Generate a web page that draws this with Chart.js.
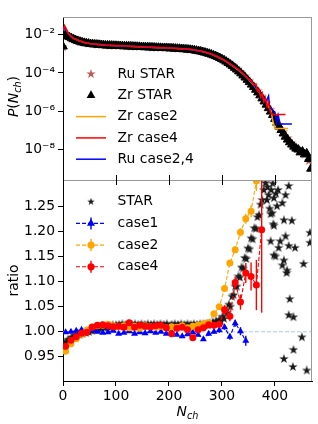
<!DOCTYPE html>
<html>
<head>
<meta charset="utf-8">
<script src="https://cdn.jsdelivr.net/npm/chart.js@4.4.1/dist/chart.umd.min.js"></script>
<style>
  html, body { margin: 0; padding: 0; background: #fff; }
  #chart { display: block; }
</style>
</head>
<body>
<canvas id="chart" width="318" height="424"></canvas>
<script>
// ---------- data ----------
const xTicks = [0, 100, 200, 300, 400];
const pTicks = [1e-2, 1e-4, 1e-6, 1e-8];
const pTickLabels = ['10⁻²', '10⁻⁴', '10⁻⁶', '10⁻⁸'];
const ratioTicks = [0.95, 1.00, 1.05, 1.10, 1.15, 1.20, 1.25];
const ratioTickLabels = ['0.95', '1.00', '1.05', '1.10', '1.15', '1.20', '1.25'];

// top panel: P(Nch)
const nZrStar = [0,4,8,12,16,20,24,28,32,36,40,44,48,52,56,60,64,68,72,76,80,84,88,92,96,100,
  104,108,112,116,120,124,128,132,136,140,144,148,152,156,160,164,168,172,176,180,184,188,192,196,200,
  204,208,212,216,220,224,228,232,236,240,244,248,252,256,260,264,268,272,276,280,284,288,292,296,300,
  304,308,312,316,320,324,328,332,336,340,344,348,352,356,360,364,368,372,376,380,384,388,392,396,400,
  404,408,412,416,420,424,428,432,436,440,444,448,452,456,460,464,468];
const pZrStar = [2.40e-3,9.55e-3,8.51e-3,7.41e-3,6.46e-3,5.75e-3,5.13e-3,4.68e-3,4.27e-3,3.98e-3,3.72e-3,3.55e-3,3.39e-3,3.24e-3,3.16e-3,3.09e-3,3.02e-3,2.95e-3,2.88e-3,2.82e-3,2.75e-3,2.72e-3,2.69e-3,2.66e-3,2.63e-3,2.60e-3,
  2.57e-3,2.54e-3,2.51e-3,2.48e-3,2.45e-3,2.43e-3,2.40e-3,2.37e-3,2.34e-3,2.32e-3,2.29e-3,2.26e-3,2.24e-3,2.21e-3,2.19e-3,2.16e-3,2.14e-3,2.11e-3,2.09e-3,2.07e-3,2.04e-3,2.02e-3,2.00e-3,1.97e-3,1.95e-3,
  1.93e-3,1.91e-3,1.86e-3,1.84e-3,1.82e-3,1.78e-3,1.74e-3,1.70e-3,1.66e-3,1.62e-3,1.58e-3,1.51e-3,1.45e-3,1.38e-3,1.32e-3,1.23e-3,1.15e-3,1.07e-3,1.00e-3,9.12e-4,8.32e-4,7.59e-4,6.76e-4,6.03e-4,5.25e-4,
  4.57e-4,3.89e-4,3.31e-4,2.75e-4,2.29e-4,1.86e-4,1.51e-4,1.20e-4,9.55e-5,7.41e-5,5.75e-5,4.37e-5,3.31e-5,2.45e-5,1.82e-5,1.32e-5,9.55e-6,6.76e-6,4.68e-6,3.24e-6,2.19e-6,1.45e-6,9.55e-7,6.31e-7,3.98e-7,
  2.51e-7,1.58e-7,1.05e-7,6.92e-8,4.68e-8,3.31e-8,2.40e-8,1.82e-8,1.41e-8,1.12e-8,1.0e-8,7.1e-9,7.9e-9,5.6e-9,6.3e-9,3.2e-9,1.0e-9];

const nRuStar = [0,8,16,24,32,40,48,56,64,72,80,88,96,104,112,120,128,136,144,152,160,168,176,184,192,200,
  208,216,224,232,240,248,256,264,272,280,288,296,304,312,320,328,336,344,352,360,368,376,384,392,400,
  408,416,424,432,440,448,456,464];
const pRuStar = [2.2e-3,8.4e-3,6.4e-3,5.05e-3,4.22e-3,3.71e-3,3.39e-3,3.17e-3,3.04e-3,2.90e-3,2.77e-3,2.71e-3,2.65e-3,2.59e-3,2.54e-3,2.48e-3,2.43e-3,2.37e-3,2.32e-3,2.27e-3,2.21e-3,2.16e-3,2.11e-3,2.06e-3,2.02e-3,1.97e-3,
  1.93e-3,1.86e-3,1.80e-3,1.72e-3,1.64e-3,1.53e-3,1.40e-3,1.25e-3,1.09e-3,9.3e-4,7.8e-4,6.2e-4,4.7e-4,3.5e-4,2.5e-4,1.65e-4,1.07e-4,6.6e-5,3.9e-5,2.2e-5,1.17e-5,5.9e-6,2.8e-6,1.22e-6,4.8e-7,
  1.9e-7,8.3e-8,4.0e-8,2.1e-8,1.25e-8,8.5e-9,5.5e-9,2.5e-9];

const nZr2 = [1,3,6,10,15,20,30,40,50,60,80,100,120,140,160,180,200,220,240,260,270,280,290,300,310,320,330,340,350,360,370,375,380,384,388,392,396,400,425];
const pZr2 = [1.58e-2,2.51e-2,1.78e-2,1.12e-2,7.9e-3,6.3e-3,4.8e-3,3.89e-3,3.39e-3,3.16e-3,2.82e-3,2.63e-3,2.45e-3,2.34e-3,2.21e-3,2.09e-3,1.97e-3,1.84e-3,1.66e-3,1.35e-3,
  1.17e-3,9.5e-4,7.2e-4,5.25e-4,3.63e-4,2.34e-4,1.48e-4,8.7e-5,4.7e-5,2.24e-5,1.0e-5,6.3e-6,3.55e-6,4.0e-6,1.58e-6,1.41e-6,3.16e-7,1.26e-7,1.26e-7];

const nZr4 = [1,3,6,10,15,20,30,40,50,60,80,100,120,140,160,180,200,220,240,260,270,280,290,300,310,320,330,340,350,355,360,364,367,370,373,376,379,382,385,388,391,395,420];
const pZr4 = [1.78e-2,2.95e-2,2.0e-2,1.20e-2,8.3e-3,6.46e-3,4.9e-3,3.98e-3,3.47e-3,3.24e-3,2.88e-3,2.69e-3,2.51e-3,2.40e-3,2.26e-3,2.14e-3,2.02e-3,1.88e-3,1.70e-3,1.38e-3,
  1.20e-3,9.8e-4,7.4e-4,5.5e-4,3.8e-4,2.51e-4,1.58e-4,9.3e-5,5.0e-5,3.98e-5,2.4e-5,2.63e-5,1.12e-5,1.41e-5,5.6e-6,8.9e-6,3.16e-6,5.0e-6,1.78e-6,2.82e-6,1.0e-6,6.8e-7,6.8e-7];

const nRu24 = [1,3,6,10,15,20,30,40,50,60,80,100,120,140,160,180,200,220,240,260,270,280,290,300,310,320,330,340,350,360,366,372,376,380,384,388,390,396,400,403,406,410,432];
const pRu24 = [1.6e-2,2.55e-2,1.8e-2,1.13e-2,8.0e-3,6.35e-3,4.85e-3,3.92e-3,3.41e-3,3.18e-3,2.84e-3,2.65e-3,2.47e-3,2.36e-3,2.23e-3,2.11e-3,1.99e-3,1.86e-3,1.68e-3,1.37e-3,
  1.19e-3,9.7e-4,7.4e-4,5.4e-4,3.8e-4,2.5e-4,1.6e-4,9.1e-5,5.0e-5,2.5e-5,1.41e-5,8.9e-6,5.0e-6,3.16e-6,3.55e-6,6.3e-6,1.58e-6,1.12e-6,8.9e-7,2.51e-7,6.3e-7,2.14e-7,2.14e-7];

// bottom panel: ratio
const nRatio = [5,15,25,35,45,55,65,75,85,95,105,115,125,135,145,155,165,175,185,195,205,215,225,235,245,255,265,275,285,295,305,315,325,335,345,355,365,375];
const case1Ratio = [0.999,1.000,1.002,1.004,1.001,1.003,1.000,0.998,0.999,1.002,0.996,0.998,1.001,0.996,0.999,0.997,1.001,0.998,1.000,0.996,0.999,0.994,0.991,0.995,0.999,0.994,0.985,0.996,1.000,1.003,1.009,0.990,1.017,1.001,0.982];
const case1Err = [0.002,0.002,0.002,0.002,0.002,0.002,0.002,0.002,0.002,0.002,0.002,0.002,0.002,0.002,0.002,0.002,0.002,0.002,0.002,0.002,0.002,0.002,0.002,0.002,0.002,0.003,0.003,0.004,0.004,0.005,0.005,0.006,0.007,0.008,0.010];
const case2Ratio = [0.961,0.976,0.986,0.995,1.003,1.010,1.012,1.013,1.015,1.012,1.010,1.012,1.008,1.011,1.007,1.012,1.010,1.009,1.011,1.008,1.010,1.009,1.012,1.008,1.011,1.013,1.016,1.018,1.036,1.050,1.086,1.137,1.163,1.198,1.225,1.240,1.300];
const case2Err = [0.002,0.002,0.002,0.002,0.002,0.002,0.002,0.002,0.002,0.002,0.002,0.002,0.002,0.002,0.002,0.002,0.002,0.002,0.002,0.002,0.002,0.002,0.002,0.002,0.002,0.003,0.003,0.003,0.004,0.004,0.005,0.006,0.007,0.008,0.010,0.012,0.020];
const case4Ratio = [0.971,0.983,0.990,0.997,0.999,1.009,1.013,1.014,1.012,1.010,1.011,1.009,1.018,1.009,1.013,1.011,1.010,1.012,1.013,1.008,0.996,1.007,1.009,1.004,0.988,1.004,1.008,1.014,1.013,1.015,1.044,1.031,1.098,1.059,1.117,1.110,1.093,1.203];
const case4Err = [0.003,0.003,0.003,0.003,0.003,0.003,0.003,0.003,0.003,0.003,0.003,0.003,0.003,0.003,0.003,0.003,0.003,0.003,0.003,0.003,0.003,0.003,0.003,0.003,0.003,0.004,0.004,0.005,0.006,0.007,0.009,0.010,0.012,0.015,0.020,0.028,0.050,0.165];

const nStarRatio = [1,4,7,10,13,16,19,22,25,28,31,34,37,40,43,46,49,52,55,58,61,64,67,70,73,76,79,82,85,88,91,94,97,100,
  103,106,109,112,115,118,121,124,127,130,133,136,139,142,145,148,151,154,157,160,163,166,169,172,175,178,181,184,187,190,193,196,199,
  202,205,208,211,214,217,220,223,226,229,232,235,238,241,244,247,250,253,256,259,262,265,268,271,274,277,280,283,286,289,292,295,298,
  301,304,307,310,313,316,319,322,325,328,331,334,337,340,343,346,349,352,355,358,361,364,367,370,373,376,379,382,
  385,386,388,390,392,393,395,396,397,398,398,398,401,392,402,404,406,407,410,414,414,417,417,420,420,422,423,426,426,428,426,432,438,435,454,466,466,451,435,417,434,460];
const starRatio = [0.974,0.978,0.979,0.984,0.984,0.988,0.988,0.992,0.991,0.995,0.994,0.997,0.996,0.999,0.998,1.001,1.000,1.003,1.002,1.005,1.004,1.007,1.006,1.009,1.007,1.010,1.008,1.011,1.009,1.012,1.010,1.013,1.010,1.013,
  1.011,1.014,1.012,1.015,1.011,1.014,1.012,1.015,1.011,1.014,1.012,1.015,1.011,1.014,1.012,1.015,1.011,1.014,1.012,1.015,1.011,1.014,1.012,1.015,1.011,1.014,1.012,1.015,1.011,1.014,1.012,1.015,1.011,
  1.011,1.014,1.012,1.015,1.011,1.014,1.012,1.015,1.011,1.014,1.012,1.015,1.011,1.014,1.012,1.015,1.011,1.014,1.012,1.015,1.012,1.015,1.013,1.016,1.013,1.017,1.014,1.019,1.016,1.021,1.018,1.024,1.021,
  1.030,1.026,1.041,1.037,1.054,1.050,1.070,1.073,1.090,1.090,1.110,1.108,1.128,1.126,1.147,1.145,1.166,1.164,1.186,1.184,1.206,1.205,1.228,1.232,1.253,1.262,1.282,1.296,
  1.262,1.288,1.272,1.245,1.234,1.282,1.236,1.295,1.214,1.266,1.211,1.152,1.150,1.180,1.275,1.250,1.282,1.167,1.180,1.256,1.132,1.222,1.142,1.272,1.190,1.117,1.122,1.290,1.171,1.065,1.033,1.221,1.167,1.029,1.135,1.197,1.177,0.989,0.964,0.946,0.930,0.923];

const nRef = [0, 470];
const refRatio = [1, 1];

// ---------- styling ----------
const FONT = '"DejaVu Sans", "Liberation Sans", sans-serif';
const FS = 13.9;
const ORANGE = '#ffa500';
const RED = '#ff0000';
const BLUE = '#0000ff';

Chart.defaults.font.family = FONT;
Chart.defaults.font.size = FS;
Chart.defaults.color = '#000';

const pts = (xs, ys) => ys.map((y, i) => ({x: xs[i], y: y}));

// filled five-point star like matplotlib '*'
function starMarker(size, color) {
  const c = document.createElement('canvas');
  c.width = c.height = size;
  const g = c.getContext('2d');
  const R = size / 2, r = R * 0.382;
  g.beginPath();
  for (let i = 0; i < 10; i++) {
    const a = -Math.PI / 2 + i * Math.PI / 5;
    const rad = i % 2 ? r : R;
    g.lineTo(R + rad * Math.cos(a), R + rad * Math.sin(a));
  }
  g.closePath();
  g.fillStyle = color;
  g.fill();
  return c;
}
const starBlack = starMarker(10, '#1a1a1a');
const starBlackLegend = starMarker(8, '#1a1a1a');
const starBrown = starMarker(10, '#b5605a');

const lineSet = (label, xs, ys, color, order) => ({
  label, data: pts(xs, ys), yAxisID: 'y', showLine: true, pointRadius: 0,
  borderColor: color, borderWidth: 1.5, order
});
const ratioSet = (label, xs, ys, errs, color, style, radius, order) => ({
  label, data: pts(xs, ys), yAxisID: 'y2', showLine: true,
  borderColor: color, borderWidth: 1.1, borderDash: [4, 2],
  pointStyle: style, pointRadius: radius, pointBackgroundColor: color,
  pointBorderColor: color, pointBorderWidth: 0, errorBars: errs, order
});

// error bars, drawn just before their own dataset
const errorBarPlugin = {
  id: 'errorBars',
  beforeDatasetDraw(chart, args) {
    const ds = chart.data.datasets[args.index];
    if (!ds.errorBars) return;
    const ys = chart.scales[ds.yAxisID], xs = chart.scales.x;
    const ctx = chart.ctx;
    ctx.save();
    ctx.beginPath();
    ctx.rect(xs.left, ys.top, xs.right - xs.left, ys.bottom - ys.top);
    ctx.clip();
    ctx.strokeStyle = ds.borderColor;
    ctx.lineWidth = 1.4;
    args.meta.data.forEach((pt, i) => {
      const v = ds.data[i].y, e = ds.errorBars[i];
      ctx.beginPath();
      ctx.moveTo(pt.x, ys.getPixelForValue(v - e));
      ctx.lineTo(pt.x, ys.getPixelForValue(v + e));
      ctx.stroke();
    });
    ctx.restore();
  }
};

function mathLabel(ctx, cx, cy, angle, parts) {
  const fontOf = p => (p.italic ? 'italic ' : '') + (p.sub ? 9.7 : FS) + 'px ' + FONT;
  ctx.save();
  ctx.translate(cx, cy);
  ctx.rotate(angle);
  ctx.textAlign = 'left';
  ctx.textBaseline = 'alphabetic';
  ctx.fillStyle = '#000';
  let w = 0;
  parts.forEach(p => { ctx.font = fontOf(p); p.w = ctx.measureText(p.t).width; w += p.w; });
  let x = -w / 2;
  parts.forEach(p => { ctx.font = fontOf(p); ctx.fillText(p.t, x, p.sub ? 3 : 0); x += p.w; });
  ctx.restore();
}

function legendMarker(ctx, kind, x, y, color) {
  ctx.save();
  ctx.fillStyle = color;
  ctx.strokeStyle = color;
  if (kind === 'line') {
    ctx.lineWidth = 1.5;
    ctx.beginPath(); ctx.moveTo(x - 15, y); ctx.lineTo(x + 15, y); ctx.stroke();
  } else if (kind === 'tri') {
    ctx.beginPath();
    ctx.moveTo(x, y - 5); ctx.lineTo(x + 4.4, y + 2.6); ctx.lineTo(x - 4.4, y + 2.6);
    ctx.closePath(); ctx.fill();
  } else if (kind === 'dashTri' || kind === 'dashDot') {
    ctx.lineWidth = 1.1;
    ctx.setLineDash([4, 2]);
    ctx.beginPath(); ctx.moveTo(x - 15, y); ctx.lineTo(x + 15, y); ctx.stroke();
    ctx.setLineDash([]);
    ctx.lineWidth = 1.4;
    ctx.beginPath(); ctx.moveTo(x, y - 6); ctx.lineTo(x, y + 6); ctx.stroke();
    ctx.beginPath();
    if (kind === 'dashTri') {
      ctx.moveTo(x, y - 4.6); ctx.lineTo(x + 4, y + 2.3); ctx.lineTo(x - 4, y + 2.3); ctx.closePath();
    } else {
      ctx.arc(x, y, 3.6, 0, Math.PI * 2);
    }
    ctx.fill();
  }
  ctx.restore();
}

const topLegend = [
  {label: 'Ru STAR', kind: 'img', img: starBrown},
  {label: 'Zr STAR', kind: 'tri', color: '#000'},
  {label: 'Zr case2', kind: 'line', color: ORANGE},
  {label: 'Zr case4', kind: 'line', color: RED},
  {label: 'Ru case2,4', kind: 'line', color: BLUE}
];
const bottomLegend = [
  {label: 'STAR', kind: 'img', img: starBlackLegend},
  {label: 'case1', kind: 'dashTri', color: BLUE},
  {label: 'case2', kind: 'dashDot', color: ORANGE},
  {label: 'case4', kind: 'dashDot', color: RED}
];

const decorPlugin = {
  id: 'decor',
  afterDraw(chart) {
    const ctx = chart.ctx;
    const a = chart.chartArea;
    const yTop = chart.scales.y, x = chart.scales.x;
    const sep = yTop.bottom;

    // grey spines: top, right, panel separator
    ctx.save();
    ctx.strokeStyle = '#999';
    ctx.lineWidth = 1;
    ctx.beginPath();
    ctx.moveTo(a.left, a.top + 0.5); ctx.lineTo(a.right, a.top + 0.5);
    ctx.moveTo(a.right - 0.5, a.top); ctx.lineTo(a.right - 0.5, a.bottom);
    ctx.moveTo(a.left, sep + 0.5); ctx.lineTo(a.right, sep + 0.5);
    ctx.stroke();
    ctx.strokeStyle = '#000';
    ctx.beginPath();
    xTicks.forEach(v => {
      const px = Math.round(x.getPixelForValue(v)) + 0.5;
      ctx.moveTo(px, sep - 5); ctx.lineTo(px, sep + 5);
    });
    ctx.stroke();
    ctx.restore();

    // axis titles
    mathLabel(ctx, 18, (yTop.top + yTop.bottom) / 2 - 2, -Math.PI / 2,
      [{t: 'P', italic: true}, {t: '('}, {t: 'N', italic: true}, {t: 'ch', italic: true, sub: true}, {t: ')'}]);
    const y2 = chart.scales.y2;
    mathLabel(ctx, 18, (y2.top + y2.bottom) / 2, -Math.PI / 2, [{t: 'ratio'}]);
    mathLabel(ctx, (a.left + a.right) / 2, 416, 0,
      [{t: 'N', italic: true}, {t: 'ch', italic: true, sub: true}]);

    // legends
    const mx = a.left + 28, tx = a.left + 54.5;
    ctx.save();
    ctx.font = FS + 'px ' + FONT;
    ctx.textBaseline = 'middle';
    ctx.fillStyle = '#000';
    topLegend.forEach((it, i) => {
      const yy = a.top + 57 + i * 21.3;
      if (it.kind === 'img') ctx.drawImage(it.img, mx - it.img.width / 2, yy - it.img.height / 2);
      else legendMarker(ctx, it.kind, mx, yy, it.color);
      ctx.fillText(it.label, tx, yy);
    });
    bottomLegend.forEach((it, i) => {
      const yy = sep + 21.7 + i * 21.7;
      if (it.kind === 'img') ctx.drawImage(it.img, mx - it.img.width / 2, yy - it.img.height / 2);
      else legendMarker(ctx, it.kind, mx, yy, it.color);
      ctx.fillText(it.label, tx, yy);
    });
    ctx.restore();
  }
};

const tickGrid = {display: true, drawOnChartArea: false, drawTicks: true, tickLength: 5, color: '#000', lineWidth: 1};

new Chart(document.getElementById('chart').getContext('2d'), {
  type: 'scatter',
  data: {
    datasets: [
      lineSet('Zr case4', nZr4, pZr4, RED, 1),
      lineSet('Ru case2,4', nRu24, pRu24, BLUE, 2),
      lineSet('Zr case2', nZr2, pZr2, ORANGE, 3),
      {label: 'Zr STAR', data: pts(nZrStar, pZrStar), yAxisID: 'y', pointStyle: 'triangle',
        pointRadius: 5, pointBackgroundColor: '#000', pointBorderColor: '#000', pointBorderWidth: 1, order: 4},
      {label: 'Ru STAR', data: pts(nRuStar, pRuStar), yAxisID: 'y', pointStyle: starBrown,
        pointRadius: 5, order: 5},
      ratioSet('case4', nRatio, case4Ratio, case4Err, RED, 'circle', 3.5, 6),
      ratioSet('case2', nRatio, case2Ratio, case2Err, ORANGE, 'circle', 3.5, 7),
      ratioSet('case1', nRatio, case1Ratio, case1Err, BLUE, 'triangle', 4, 8),
      {label: 'STAR', data: pts(nStarRatio, starRatio), yAxisID: 'y2', pointStyle: starBlack,
        pointRadius: 5, order: 9},
      {label: 'ref', data: pts(nRef, refRatio), yAxisID: 'y2', showLine: true, pointRadius: 0,
        borderColor: '#a9cfe8', borderWidth: 1, borderDash: [4, 2], order: 10}
    ]
  },
  options: {
    responsive: false,
    animation: false,
    events: [],
    devicePixelRatio: 1,
    layout: {padding: {left: 15, top: 17, right: 3, bottom: 0}},
    plugins: {legend: {display: false}, tooltip: {enabled: false}},
    scales: {
      x: {
        type: 'linear', position: 'bottom', min: 0, max: 470,
        afterBuildTicks: s => { s.ticks = xTicks.map(v => ({value: v})); },
        afterFit: s => { s.height = 43; },
        ticks: {padding: 2, maxRotation: 0, autoSkip: false, color: '#000'},
        grid: tickGrid,
        border: {display: true, color: '#000', width: 1}
      },
      y: {
        type: 'logarithmic', position: 'left', stack: 'panels', stackWeight: 163, weight: 2,
        min: 2.57e-10, max: 0.083,
        afterBuildTicks: s => { s.ticks = pTicks.map(v => ({value: v})); },
        afterFit: s => { s.width = 48; },
        ticks: {padding: 3, autoSkip: false, color: '#000',
          callback: v => pTickLabels[pTicks.indexOf(v)]},
        grid: tickGrid,
        border: {display: true, color: '#000', width: 1}
      },
      y2: {
        type: 'linear', position: 'left', stack: 'panels', stackWeight: 201, weight: 1,
        min: 0.902, max: 1.302,
        afterBuildTicks: s => { s.ticks = ratioTicks.map(v => ({value: v})); },
        afterFit: s => { s.width = 48; },
        ticks: {padding: 3, autoSkip: false, color: '#000',
          callback: v => ratioTickLabels[ratioTicks.indexOf(v)]},
        grid: tickGrid,
        border: {display: true, color: '#000', width: 1}
      }
    }
  },
  plugins: [errorBarPlugin, decorPlugin]
});
</script>
</body>
</html>
